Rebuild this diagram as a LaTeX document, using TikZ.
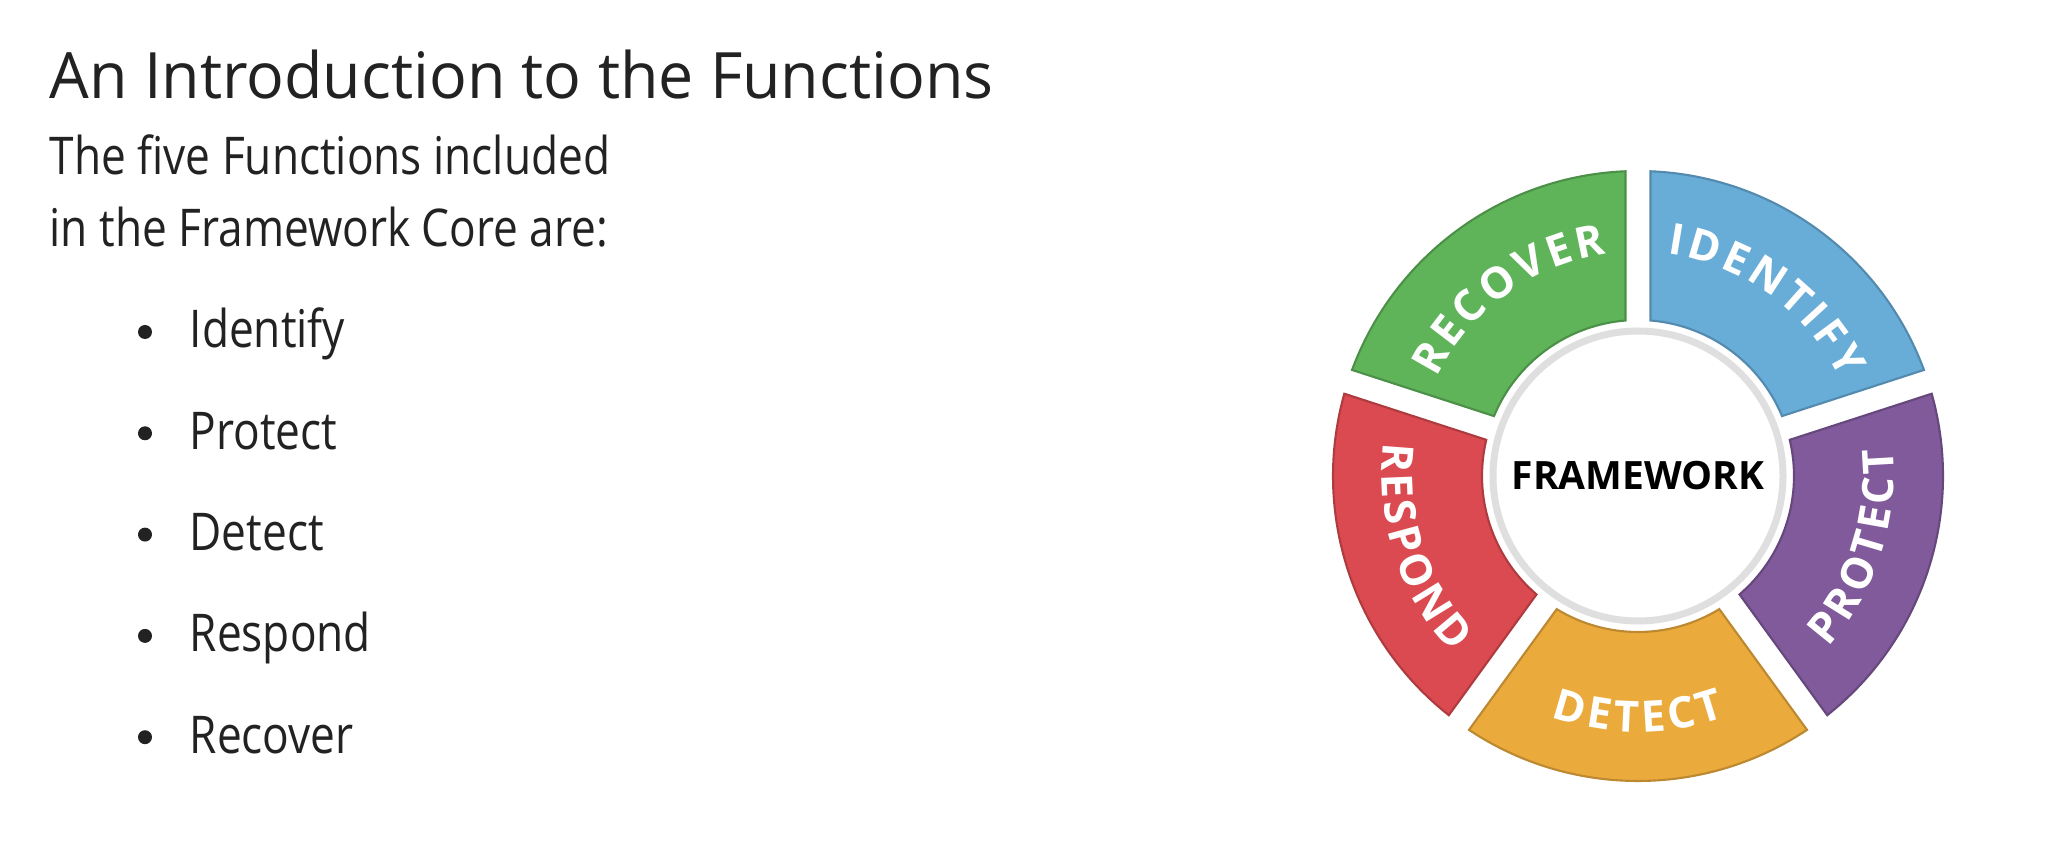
\documentclass[tikz,border=0pt]{standalone}
\usepackage{fontspec}
\usepackage{xcolor}
\setmainfont{Open Sans}
\newfontfamily\headfont[FakeStretch=0.98]{Open Sans}
\newfontfamily\slidefont[FakeStretch=0.85]{Open Sans}
\newfontfamily\wheelfont{Open Sans}
\usepackage{tikz}
\usetikzlibrary{positioning, decorations.text}

\definecolor{inkgray}{HTML}{222222}
\definecolor{idblue}{HTML}{68ACD8}
\definecolor{prpurple}{HTML}{805A9B}
\definecolor{deorange}{HTML}{EBAA3C}
\definecolor{rsred}{HTML}{DA4A50}
\definecolor{rcgreen}{HTML}{5FB45A}

\newcommand{\bodyfont}{\slidefont\fontsize{14.8}{18}\selectfont}
\newcommand{\segfont}{\wheelfont\bfseries\fontsize{12.3}{14}\selectfont}
\newcommand{\rout}{3.05}
\newcommand{\rin}{1.56}
\newcommand{\gap}{0.125}

\tikzset{
  segword/.style={decorate, decoration={text effects along path, text={#1}, text align=center,
    text effects/.cd,
    characters={text=white, font=\segfont, inner xsep=0.55pt, inner ysep=0pt},
    character widths={font=\segfont, inner xsep=0.55pt, inner ysep=0pt},
    text along path}},
}

\begin{document}
\begin{tikzpicture}[
  slidetext/.style={anchor=base west, inner sep=0pt, text=inkgray},
  dot/.style={circle, fill=inkgray, inner sep=0pt, minimum size=0.14cm},
]
\useasboundingbox[fill=white] (0,0) rectangle (20.72,8.54);

% heading and intro lines
\node[slidetext, font=\headfont\fontsize{18.2}{22}\selectfont] (title) at (0.49,7.55) {An Introduction to the Functions};
\node[slidetext, font=\bodyfont] (intro1) at (0.49,6.79) {The five Functions included};
\node[slidetext, font=\bodyfont] (intro2) at (0.49,6.07) {in the Framework Core are:};

% bullet list
\foreach \word [count=\i] in {Identify, Protect, Detect, Respond, Recover} {
  \node[slidetext, font=\bodyfont] (item\i) at (1.89,{5.06-1.013*(\i-1)}) {\word};
  \node[dot] (dot\i) at (1.45,{5.22-1.013*(\i-1)}) {};
}

% the wheel
\coordinate (hub) at (16.38,3.78);
\begin{scope}[shift={(hub)}]
  \foreach \a/\b/\col in {90/18/idblue, 18/-54/prpurple, -54/-126/deorange, -126/-198/rsred, 162/90/rcgreen} {
    \filldraw[fill=\col, draw=\col!80!black, line width=0.6pt]
      ({\a-asin(\gap/\rout)}:\rout) arc[start angle={\a-asin(\gap/\rout)}, end angle={\b+asin(\gap/\rout)}, radius=\rout]
      -- ({\b+asin(\gap/\rin)}:\rin) arc[start angle={\b+asin(\gap/\rin)}, end angle={\a-asin(\gap/\rin)}, radius=\rin] -- cycle;
  }
  % upper words read clockwise, lower ones counter-clockwise
  \path[segword=IDENTIFY] (90:2.24) arc[start angle=90, end angle=18, radius=2.24];
  \path[segword=RECOVER] (162:2.24) arc[start angle=162, end angle=90, radius=2.24];
  \path[segword=PROTECT] (-54:2.56) arc[start angle=-54, end angle=18, radius=2.56];
  \path[segword=DETECT] (-126:2.56) arc[start angle=-126, end angle=-54, radius=2.56];
  \path[segword=RESPOND] (162:2.56) arc[start angle=162, end angle=234, radius=2.56];
\end{scope}
\node[circle, fill=white, draw=gray!25, line width=0.07cm, minimum size=2.9cm, inner sep=0pt,
  font=\wheelfont\bfseries\fontsize{11.1}{13}\selectfont, text=black] (core) at (hub) {FRAMEWORK};
\end{tikzpicture}
\end{document}
